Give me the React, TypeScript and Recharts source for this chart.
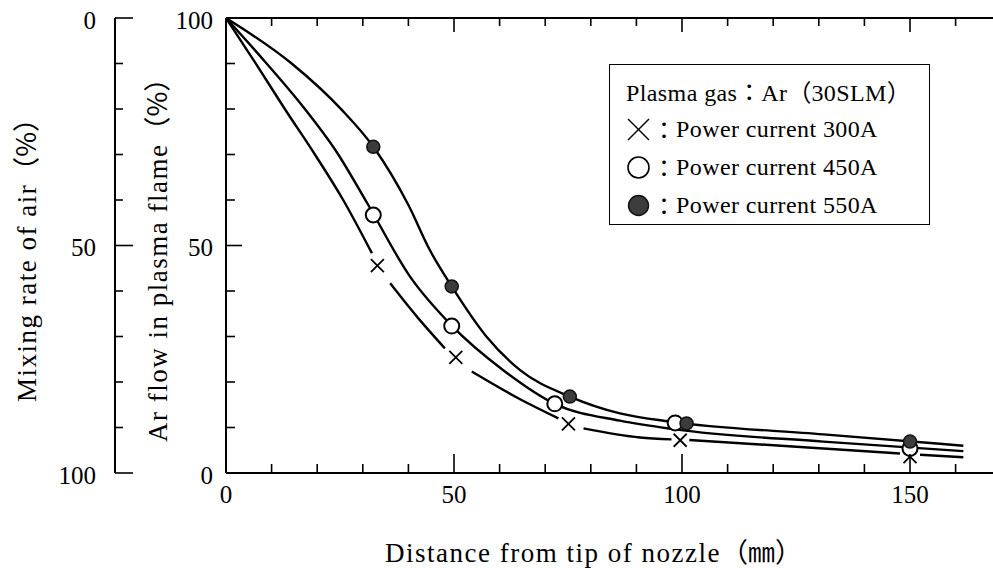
import React from 'react';
import { ComposedChart, Line, Scatter, XAxis, YAxis, Legend, Label } from 'recharts';

const FONT = "'Liberation Serif', 'Times New Roman', serif";
const CJK = "'Noto Sans CJK JP', 'Noto Sans CJK SC', sans-serif";

// ---- data ----
const xTicks = [0, 10, 20, 30, 40, 50, 60, 70, 80, 90, 100, 110, 120, 130, 140, 150, 160];
const xMajor = [0, 50, 100, 150];
const yTicks = [0, 10, 20, 30, 40, 50, 60, 70, 80, 90, 100];
const yMajor = [0, 50, 100];

// fitted curves; null entries = gaps around the × markers
const curve300 = [
  { x: 0, y: 100 }, { x: 6.4, y: 90.2 }, { x: 12.9, y: 80.0 }, { x: 19.5, y: 70.0 }, { x: 25.7, y: 60 }, { x: 32, y: 48.3 },
  { x: 34, y: null },
  { x: 36, y: 41.7 }, { x: 42, y: 34.2 }, { x: 48, y: 27.4 },
  { x: 51, y: null },
  { x: 53.9, y: 22.3 }, { x: 64.5, y: 16.2 }, { x: 72.9, y: 12.0 },
  { x: 75.5, y: null },
  { x: 78.4, y: 9.8 }, { x: 90.8, y: 7.8 }, { x: 97.7, y: 7.4 },
  { x: 99.6, y: null },
  { x: 101.6, y: 7.25 }, { x: 131, y: 5.4 }, { x: 147.8, y: 4.3 },
  { x: 150, y: null },
  { x: 152.2, y: 4.0 }, { x: 161.7, y: 3.45 },
];
const curve450 = [
  { x: 0, y: 100 }, { x: 8.9, y: 90 }, { x: 16.9, y: 80.5 }, { x: 24.3, y: 70.5 }, { x: 31.2, y: 58.9 },
  { x: 40.4, y: 43.1 }, { x: 49.5, y: 32.4 }, { x: 60.8, y: 22.6 }, { x: 72.1, y: 15.2 }, { x: 86.4, y: 11.5 },
  { x: 98.5, y: 9.6 }, { x: 131, y: 6.9 }, { x: 161.7, y: 4.8 },
];
const curve550 = [
  { x: 0, y: 100 }, { x: 14.4, y: 90 }, { x: 25.4, y: 79.8 }, { x: 32.3, y: 71.7 }, { x: 40, y: 58.9 },
  { x: 44.7, y: 49 }, { x: 49.5, y: 41 }, { x: 57.1, y: 30 }, { x: 64.5, y: 22.6 }, { x: 75.4, y: 16.8 },
  { x: 86.4, y: 13.1 }, { x: 97.4, y: 11.3 }, { x: 131, y: 8.5 }, { x: 161.7, y: 6.0 },
];

// measured points
const pts300 = [{ x: 33.2, y: 45.6 }, { x: 50.4, y: 25.4 }, { x: 75.1, y: 10.8 }, { x: 99.6, y: 7.2 }, { x: 150, y: 3.6 }];
const pts450 = [{ x: 32.3, y: 56.7 }, { x: 49.5, y: 32.3 }, { x: 72.1, y: 15.2 }, { x: 98.5, y: 11.0 }, { x: 150, y: 5.4 }];
const pts550 = [{ x: 32.3, y: 71.7 }, { x: 49.5, y: 41.0 }, { x: 75.4, y: 16.8 }, { x: 101, y: 10.9 }, { x: 150, y: 6.9 }];

const legendGas = ['Plasma gas', 'Ar', '30SLM'];
const legendRows = [
  { icon: 'cross', label: 'Power current 300A' },
  { icon: 'open', label: 'Power current 450A' },
  { icon: 'filled', label: 'Power current 550A' },
];

const xTitle = ['Distance from tip of nozzle', '（㎜）'];
const arTitle = ['Ar flow in plasma flame', '（%）'];
const mixTitle = ['Mixing rate of air', '（%）'];

// ---- ticks ----
const BottomTick = (props: any) => {
  const { x, y, payload } = props;
  const v = payload.value;
  const major = xMajor.includes(v);
  return (
    <g>
      <line x1={x} x2={x} y1={y} y2={y - (major ? 19 : 9)} stroke="#000" strokeWidth={1.6} />
      {major && (
        <text x={x} y={y + 30} textAnchor="middle" fontFamily={FONT} fontSize={25} fill="#000">{v}</text>
      )}
    </g>
  );
};
const TopTick = (props: any) => {
  const { x, y, payload } = props;
  const major = xMajor.includes(payload.value);
  return <line x1={x} x2={x} y1={y} y2={y + (major ? 14 : 8)} stroke="#000" strokeWidth={1.6} />;
};
const ArTick = (props: any) => {
  const { x, y, payload } = props;
  const v = payload.value;
  const major = yMajor.includes(v);
  return (
    <g>
      <line x1={x} x2={x + (major ? 16 : 9)} y1={y} y2={y} stroke="#000" strokeWidth={1.6} />
      {major && (
        <text x={x - 13} y={y + 10.5} textAnchor="end" fontFamily={FONT} fontSize={25} fill="#000">{v}</text>
      )}
    </g>
  );
};
const MixTick = (props: any) => {
  const { x, y, payload } = props;
  const v = payload.value;
  const major = yMajor.includes(v);
  return (
    <g>
      <line x1={x} x2={x + (major ? 18 : 8)} y1={y} y2={y} stroke="#000" strokeWidth={1.6} />
      {major && (
        <text x={x - 19} y={y + 10.5} textAnchor="end" fontFamily={FONT} fontSize={25} fill="#000">{v}</text>
      )}
    </g>
  );
};

// ---- markers ----
const CrossShape = (props: any) => {
  const { cx, cy } = props;
  const s = 6.5;
  return (
    <g>
      <line x1={cx - s} y1={cy - s} x2={cx + s} y2={cy + s} stroke="#000" strokeWidth={1.8} />
      <line x1={cx - s} y1={cy + s} x2={cx + s} y2={cy - s} stroke="#000" strokeWidth={1.8} />
    </g>
  );
};
const OpenShape = (props: any) => <circle cx={props.cx} cy={props.cy} r={7.5} fill="#fff" stroke="#000" strokeWidth={2} />;
const FilledShape = (props: any) => <circle cx={props.cx} cy={props.cy} r={6.5} fill="#3c3c3c" stroke="#111" strokeWidth={1.5} />;

const LegendIcon = ({ kind }: { kind: string }) => (
  <svg width={26} height={26} style={{ display: 'block', flex: 'none' }}>
    {kind === 'cross' && (
      <g stroke="#000" strokeWidth={1.5}>
        <line x1={2} y1={3} x2={23} y2={24} />
        <line x1={2} y1={24} x2={23} y2={3} />
      </g>
    )}
    {kind === 'open' && <circle cx={12.5} cy={13.5} r={10.5} fill="#fff" stroke="#000" strokeWidth={1.6} />}
    {kind === 'filled' && <circle cx={12.5} cy={13.5} r={10} fill="#3c3c3c" stroke="#111" strokeWidth={1.4} />}
  </svg>
);

const cjk = (s: string) => <span style={{ fontFamily: CJK, letterSpacing: 0 }}>{s}</span>;

const renderLegend = () => (
  <div
    style={{
      boxSizing: 'border-box', width: 321, height: 161, border: '1.5px solid #000', background: '#fff',
      padding: '7px 0 0 16px', fontSize: 24, lineHeight: '38px', color: '#000',
    }}
  >
    <div style={{ whiteSpace: 'nowrap', height: 38 }}>
      <span style={{ fontFamily: FONT, letterSpacing: 0.4 }}>{legendGas[0]}</span>
      {cjk('：')}
      <span style={{ fontFamily: FONT, letterSpacing: 0.4 }}>{legendGas[1]}</span>
      {cjk('（')}
      <span style={{ fontFamily: FONT, letterSpacing: 0.4 }}>{legendGas[2]}</span>
      {cjk('）')}
    </div>
    {legendRows.map((r) => (
      <div key={r.label} style={{ display: 'flex', alignItems: 'center', whiteSpace: 'nowrap', height: 38 }}>
        <LegendIcon kind={r.icon} />
        {cjk('：')}
        <span style={{ fontFamily: FONT, letterSpacing: 0.4 }}>{r.label}</span>
      </div>
    ))}
  </div>
);

const TitleText = ({ x, y, rotate, parts }: { x: number; y: number; rotate?: boolean; parts: string[] }) => (
  <text x={x} y={y} transform={rotate ? `rotate(-90 ${x} ${y})` : undefined} textAnchor="start" fontSize={27} fill="#000">
    <tspan fontFamily={FONT} letterSpacing={1.5}>{parts[0]}</tspan>
    <tspan fontFamily={CJK}>{parts[1]}</tspan>
  </text>
);

export default function App() {
  return (
    <div style={{ position: 'absolute', left: 0, top: 0, background: '#fff' }}>
      <ComposedChart width={993} height={568} margin={{ top: 17, right: 0, bottom: 94, left: 0 }}>
        <XAxis
          xAxisId="bottom" type="number" dataKey="x" domain={[0, 168.2]} ticks={xTicks} interval={0}
          height={1} tickSize={0} tickMargin={0} tickLine={false} tick={<BottomTick />}
          axisLine={{ stroke: '#000', strokeWidth: 2 }} allowDataOverflow
        >
          <Label content={() => <TitleText x={385} y={562} parts={xTitle} />} />
        </XAxis>
        <XAxis
          xAxisId="top" orientation="top" type="number" dataKey="x" domain={[0, 168.2]} ticks={xTicks} interval={0}
          height={1} tickSize={0} tickMargin={0} tickLine={false} tick={<TopTick />}
          axisLine={{ stroke: '#000', strokeWidth: 2 }} allowDataOverflow
        />
        <YAxis
          yAxisId="ar" type="number" dataKey="y" domain={[0, 100]} ticks={yTicks} interval={0} width={111}
          tickSize={0} tickMargin={0} tickLine={false} tick={<ArTick />}
          axisLine={{ stroke: '#000', strokeWidth: 2 }} allowDataOverflow
        >
          <Label content={() => <TitleText x={167} y={442} rotate parts={arTitle} />} />
        </YAxis>
        <YAxis
          yAxisId="mix" type="number" domain={[0, 100]} reversed ticks={yTicks} interval={0} width={115}
          tickSize={0} tickMargin={0} tickLine={false} tick={<MixTick />}
          axisLine={{ stroke: '#000', strokeWidth: 2 }} allowDataOverflow
        >
          <Label content={() => <TitleText x={36} y={402} rotate parts={mixTitle} />} />
        </YAxis>
        <Legend layout="vertical" align="center" verticalAlign="middle" content={renderLegend}
          wrapperStyle={{ left: 609, top: 64, width: 321, height: 161 }} />

        <Line xAxisId="bottom" yAxisId="ar" data={curve300} dataKey="y" type="monotone" stroke="#000" strokeWidth={2.4} dot={false} activeDot={false} isAnimationActive={false} legendType="none" />
        <Line xAxisId="bottom" yAxisId="ar" data={curve450} dataKey="y" type="monotone" stroke="#000" strokeWidth={2.4} dot={false} activeDot={false} isAnimationActive={false} legendType="none" />
        <Line xAxisId="bottom" yAxisId="ar" data={curve550} dataKey="y" type="monotone" stroke="#000" strokeWidth={2.4} dot={false} activeDot={false} isAnimationActive={false} legendType="none" />

        <Scatter xAxisId="bottom" yAxisId="ar" data={pts300} dataKey="y" shape={CrossShape} isAnimationActive={false} />
        <Scatter xAxisId="bottom" yAxisId="ar" data={pts450} dataKey="y" shape={OpenShape} isAnimationActive={false} />
        <Scatter xAxisId="bottom" yAxisId="ar" data={pts550} dataKey="y" shape={FilledShape} isAnimationActive={false} />
      </ComposedChart>
    </div>
  );
}
